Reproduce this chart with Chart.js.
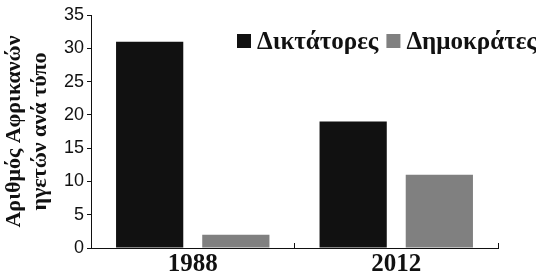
<!DOCTYPE html>
<html>
<head>
<meta charset="utf-8">
<script src="https://cdn.jsdelivr.net/npm/chart.js@4.4.0/dist/chart.umd.min.js"></script>
<style>
  html, body { margin: 0; padding: 0; background: #fff; }
  #wrap { width: 536px; height: 278px; }
</style>
</head>
<body>
<div id="wrap"><canvas id="leaders"></canvas></div>
<script>
const years = ['1988', '2012']
const dictators = [31, 19]
const democrats = [2, 11]
const yTicks = [0, 5, 10, 15, 20, 25, 30, 35]

const serif = '"Liberation Serif", "Times New Roman", serif'
const sans = '"Liberation Sans", Arial, sans-serif'

// legend drawn over the plot, top right like the print version
const legendPlugin = {
  id: 'topLegend',
  afterDraw(chart) {
    const ctx = chart.ctx
    let x = 237
    const top = 34
    ctx.save()
    ctx.font = 'bold 25px ' + serif
    ctx.textBaseline = 'alphabetic'
    chart.data.datasets.forEach(ds => {
      ctx.fillStyle = ds.backgroundColor
      ctx.fillRect(x, top, 14, 14)
      x += 20
      ctx.fillStyle = '#111'
      ctx.fillText(ds.label, x, top + 15)
      x += ctx.measureText(ds.label).width + 8
    })
    ctx.restore()
  }
}

const data = {
  labels: years,
  datasets: [
    {
      label: 'Δικτάτορες',
      backgroundColor: '#111111',
      data: dictators,
    },
    {
      label: 'Δημοκράτες',
      backgroundColor: '#808080',
      data: democrats,
    },
  ],
}

const config = {
  type: 'bar',
  data: data,
  options: {
    responsive: true,
    maintainAspectRatio: false,
    animation: false,
    layout: { padding: { top: 15, right: 38, left: 0, bottom: 0 } },
    datasets: {
      bar: { categoryPercentage: 0.847, barPercentage: 0.78, borderWidth: 0 },
    },
    plugins: {
      legend: { display: false },
      tooltip: { enabled: false },
    },
    scales: {
      x: {
        border: { color: '#111', width: 1 },
        grid: { drawOnChartArea: false, color: '#111', tickLength: -5 },
        ticks: { color: '#111', padding: 7, font: { family: serif, size: 25, weight: 'bold' } },
        afterFit: s => { s.height = 30 },
      },
      y: {
        min: 0,
        max: 35,
        afterBuildTicks: s => { s.ticks = yTicks.map(v => ({ value: v })) },
        border: { color: '#111', width: 1 },
        grid: { drawOnChartArea: false, color: '#111', tickLength: 4 },
        ticks: { color: '#111', padding: 3, font: { family: sans, size: 18 } },
        title: {
          display: true,
          text: ['Αριθμός Αφρικανών', 'ηγετών ανά τύπο'],
          color: '#111',
          padding: { top: 2, bottom: 0 },
          font: { family: serif, size: 22, weight: 'bold', lineHeight: 1.15 },
        },
        afterFit: s => { s.width = 91 },
      },
    },
  },
  plugins: [legendPlugin],
}

const canvas = document.getElementById('leaders')
const chart = new Chart(canvas, config)
</script>
</body>
</html>
